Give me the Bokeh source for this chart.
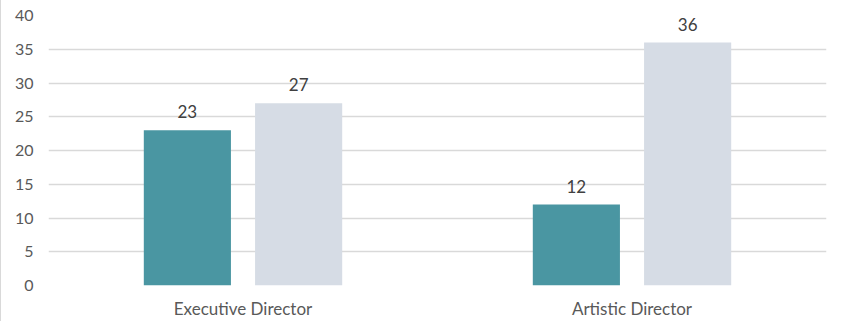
from bokeh.plotting import figure
from bokeh.models import ColumnDataSource, FactorRange, Range1d, LabelSet, FixedTicker
from bokeh.core.properties import value
from bokeh.transform import dodge
from bokeh.embed import file_html
from bokeh.resources import INLINE

categories = ["Executive Director", "Artistic Director"]
series_a = [23, 12]
series_b = [27, 36]
y_ticks = [0, 5, 10, 15, 20, 25, 30, 35, 40]

FONT = "Lato"
src = ColumnDataSource(dict(cat=categories, a=series_a, b=series_b,
                            la=[str(v) for v in series_a], lb=[str(v) for v in series_b]))

p = figure(x_range=FactorRange(*categories), y_range=Range1d(0, 40),
           width=844, height=321, output_backend="svg", toolbar_location=None,
           min_border_left=47, min_border_right=19, min_border_top=15, min_border_bottom=36)
p.outline_line_color = None
p.background_fill_color = "white"
p.border_fill_color = "white"
p.styles = {"border-left": "1px solid #D9D9D9"}

p.vbar(x=dodge("cat", -0.143, range=p.x_range), top="a", width=0.224, source=src,
       fill_color="#4A96A2", line_color=None)
p.vbar(x=dodge("cat", 0.143, range=p.x_range), top="b", width=0.224, source=src,
       fill_color="#D6DCE5", line_color=None)

for col, lab, off in (("a", "la", -0.143), ("b", "lb", 0.143)):
    p.add_layout(LabelSet(x=dodge("cat", off, range=p.x_range), y=col, text=lab, source=src,
                          text_align="center", text_baseline="bottom", y_offset=12,
                          text_font=value(FONT), text_font_size="17px", text_color="#404040"))

p.xgrid.grid_line_color = None
p.ygrid.grid_line_color = "#D9D9D9"
p.ygrid.grid_line_width = 1.5
p.yaxis.ticker = FixedTicker(ticks=y_ticks)
for ax in (p.xaxis[0], p.yaxis[0]):
    ax.axis_line_color = None
    ax.major_tick_line_color = None
    ax.minor_tick_line_color = None
    ax.major_tick_out = 0
    ax.major_tick_in = 0
    ax.major_label_text_font = FONT
    ax.major_label_text_color = "#595959"
p.yaxis.major_label_text_font_size = "16px"
p.xaxis.major_label_text_font_size = "17px"
p.yaxis.major_label_standoff = 15
p.xaxis.major_label_standoff = 12

open("out.html", "w").write(file_html(p, INLINE))
